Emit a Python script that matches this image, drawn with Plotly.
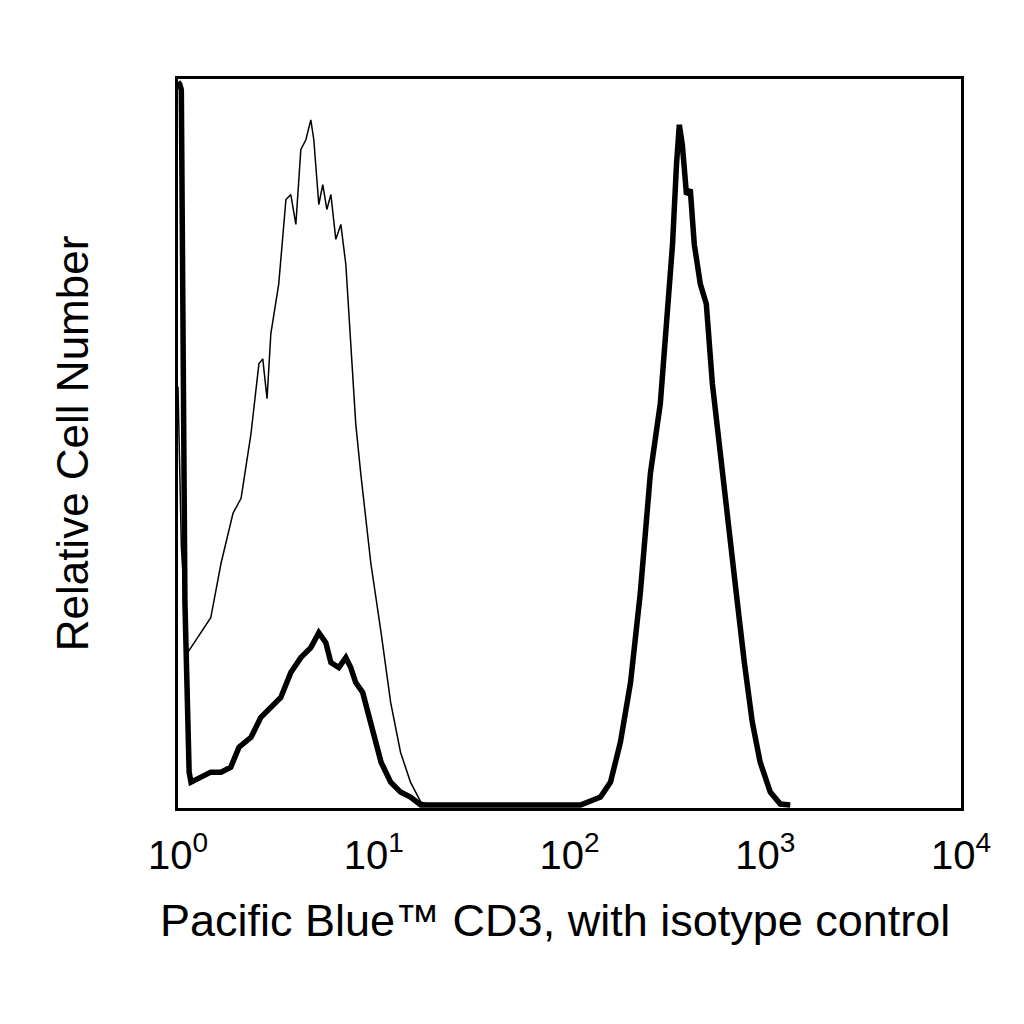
import plotly.graph_objects as go

iso_x = [1.0, 1.04, 1.12, 1.31, 1.47, 1.66, 1.91, 2.10, 2.36, 2.59, 2.71, 2.85, 2.98, 3.27, 3.56, 3.77, 4.00, 4.24, 4.50, 4.77, 4.94, 5.24, 5.49, 5.76, 6.04, 6.40, 6.79, 7.20, 7.63, 8.09, 8.58, 9.66, 10.9, 12.2, 13.7, 15.4, 17.4, 19.5]
iso_y = [420, 260, 153, 173, 188, 243, 293, 308, 373, 443, 448, 408, 473, 523, 608, 613, 583, 658, 668, 688, 668, 603, 623, 598, 613, 568, 583, 543, 463, 383, 333, 243, 173, 103, 53, 23, 3, 0]

cd3_x = [1.0, 1.02, 1.04, 1.085, 1.14, 1.165, 1.31, 1.47, 1.66, 1.86, 2.05, 2.36, 2.65, 2.98, 3.35, 3.77, 4.24, 4.77, 5.24, 5.69, 6.04, 6.63, 7.20, 7.63, 8.09, 8.78, 9.66, 10.9, 12.2, 13.7, 15.4, 17.4, 60, 113.8, 144, 162, 182, 205, 230, 259, 291, 320, 336, 352, 364, 377, 396, 414, 434, 466, 500, 537, 589, 647, 711, 782, 859, 942, 1061, 1194, 1342]
cd3_y = [726, 724, 718, 203, 33, 23, 28, 33, 33, 38, 58, 68, 88, 98, 108, 133, 148, 158, 173, 163, 143, 138, 148, 138, 123, 113, 83, 43, 23, 13, 8, 0, 0, 0, 8, 23, 63, 123, 213, 333, 403, 513, 563, 643, 683, 663, 613, 618, 563, 523, 503, 423, 353, 273, 213, 143, 83, 43, 13, 1, 0]

tick_vals = [1, 10, 100, 1000, 10000]
tick_text = ["10<sup>0</sup>", "10<sup>1</sup>", "10<sup>2</sup>", "10<sup>3</sup>", "10<sup>4</sup>"]
x_title = "Pacific Blue™ CD3, with isotype control"

fig = go.Figure()
fig.add_trace(go.Scatter(x=iso_x, y=iso_y, mode="lines", line=dict(color="black", width=1.5)))
fig.add_trace(go.Scatter(x=cd3_x, y=cd3_y, mode="lines", line=dict(color="black", width=5.5)))
font = dict(family="Liberation Sans, Arial, sans-serif", color="black")
fig.update_layout(
    width=1024, height=1024, showlegend=False,
    paper_bgcolor="white", plot_bgcolor="white",
    margin=dict(l=170, r=71, t=71, b=224),
    font=font,
)
fig.add_annotation(text=x_title, xref="paper", yref="paper", x=-0.025, xanchor="left",
                   y=-0.155, yanchor="middle", showarrow=False, font=dict(size=45))
fig.update_xaxes(type="log", range=[0, 4], tickvals=tick_vals, ticktext=tick_text,
                 showline=True, linecolor="black", linewidth=3, mirror=True,
                 showgrid=False, zeroline=False, ticks="", tickfont=dict(size=40),
                 ticklabelstandoff=10)
fig.update_yaxes(range=[-3, 729], showticklabels=False, ticks="",
                 showline=True, linecolor="black", linewidth=3, mirror=True,
                 showgrid=False, zeroline=False,
                 title=dict(text="Relative Cell Number", font=dict(size=44), standoff=73))
fig.write_html("out.html")
